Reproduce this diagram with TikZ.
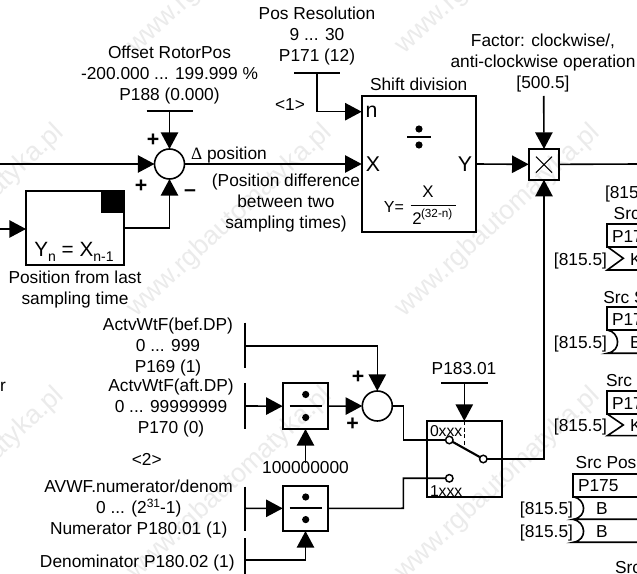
\documentclass[tikz,border=0pt]{standalone}
\usepackage{fontspec}
\setmainfont{Liberation Sans}
\newfontfamily\serifgreek{Liberation Serif}
\usetikzlibrary{arrows.meta}
\newcommand{\fs}[1]{\fontsize{#1}{15.75}\selectfont}
\newcommand{\nl}{\\\strut}
\newcommand{\pxbox}[5]{\node[blk, minimum width={(#4-#2)*0.75pt}, minimum height={(#5-#3)*0.75pt}] (#1) at ({(#2+#4)/2},{(#3+#5)/2}) {};}
\newcommand{\divsym}[4]{% x y halfwidth dy
  \fill (#1,#2-#4) circle (3.6);
  \fill (#1,#2+#4) circle (3.6);
  \draw[wire] (#1-#3,#2) -- (#1+#3,#2);}
\newcommand{\wmark}[2]{\node[wm] at (#1,#2) {www.rgbautomatyka.pl};}
\tikzset{
  wire/.style={line width=1.2pt},
  arr/.style={wire,-{Triangle[length=12.5pt,width=13pt]}},
  blk/.style={draw,line width=1.3pt,rectangle,inner sep=0pt,outer sep=0pt},
  sumc/.style={draw,line width=1.2pt,circle,inner sep=0pt,outer sep=0pt,minimum size=22.5pt},
  term/.style={draw,line width=1.1pt,circle,fill=white,inner sep=0pt,outer sep=0pt,minimum size=5.6pt},
  lbl/.style={inner sep=0pt,outer sep=0pt,align=center,yshift=-2.1pt,font=\fs{13},execute at begin node=\strut},
  lblw/.style={lbl,anchor=west},
  lble/.style={lbl,anchor=east},
  sign/.style={inner sep=0pt,font=\fs{16}\bfseries},
  big/.style={inner sep=0pt,font=\fs{16}},
  wm/.style={inner sep=0pt,rotate=43,text=black!8,font=\fs{20}},
}
\begin{document}
\begin{tikzpicture}[x=0.75pt,y=-0.75pt]
\useasboundingbox (0,0) rectangle (637,574);
\clip (0,0) rectangle (637,574);
\fill[white] (0,0) rectangle (637,574);
% watermark
\wmark{230}{-42}\wmark{498}{-42}
\wmark{-38}{221}\wmark{230}{221}\wmark{498}{221}
\wmark{-38}{484}\wmark{230}{484}\wmark{498}{484}

% --- position difference
\node[sumc] (sum1) at (169.5,164) {};
\pxbox{delay}{26}{191}{124}{265}
\fill (101,191) rectangle (124,213);
\node[big,font=\fs{15.5}] at (74,252) {Y\raisebox{-3.5pt}{\fs{10.5}n} = X\raisebox{-3.5pt}{\fs{10.5}n-1}};
\node[lbl] at (75,288) {Position from last\nl sampling time};
\node[lbl] at (169.5,73.6) {Offset RotorPos\nl -200.000 ... 199.999 \%\nl P188 (0.000)};
\coordinate (b188) at (169.5,111);
\draw[wire] (146.7,111) -- (192.7,111);
\draw[arr] (b188) -- (sum1.north);
\coordinate (inA) at (0,164);
\coordinate (inB) at (0,229);
\draw[arr] (inA) -- (sum1.west);
\draw[arr] (inB) -- (delay.west |- inB);
\draw[arr] (delay.east) -| (sum1.south);
\node[sign] at (153,140) {+};
\node[sign] at (141,186) {+};
\node[sign] at (190,193) {–};
\node[lbl] at (229,153) {{\serifgreek Δ} position};
\node[lbl] at (286,201.3) {(Position difference\nl between two\nl sampling times)};

% --- shift division
\pxbox{shift}{361.7}{96}{476}{232}
\node[lbl] at (418.7,84) {Shift division};
\node[lbl] at (317,35) {Pos Resolution\nl 9 ... 30\nl P171 (12)};
\node[lbl] at (290,104) {<1>};
\coordinate (b171) at (316.7,73);
\coordinate (nIn) at (361.7,111.7);
\draw[wire] (294,73) -- (340,73);
\draw[arr] (b171) |- (nIn);
\draw[arr] (sum1.east) -- (shift.west);
\node[big] at (371.5,111.5) {n};
\node[big] at (373,164) {X};
\node[big] at (465,164) {Y};
\divsym{419}{137}{12}{8}
\node[inner sep=0pt,font=\fs{12}] at (394,207) {Y=};
\node[inner sep=0pt,font=\fs{12.6}] at (428,192) {X};
\draw[wire] (410.7,205.7) -- (455.7,205.7);
\node[inner sep=0pt,font=\fs{12.6}] at (417,218.5) {2};
\node[inner sep=0pt,font=\fs{8.8}] at (436.7,214) {(32-n)};

% --- multiplier
\pxbox{mult}{528.7}{149}{559.3}{179.7}
\draw[line width=0.8pt] (536,156.7) -- (552,172.7) (552,156.7) -- (536,172.7);
\draw[arr] (shift.east) -- (mult.west);
\coordinate (f500) at (543.7,96);
\draw[arr] (f500) -- (mult.north);
\coordinate (outR) at (640,164);
\draw[wire] (mult.east) -- (outR);
\node[lbl] at (543,62) {Factor: clockwise/,\nl anti-clockwise operation\nl [500.5]};

% --- weight factor
\node[lbl] at (3,385) {r};
\node[lbl] at (168,345.6) {ActvWtF(bef.DP)\nl 0 ... 999\nl P169 (1)};
\node[lbl] at (171,406.3) {ActvWtF(aft.DP)\nl 0 ... 99999999\nl P170 (0)};
\node[lbl] at (146.7,459) {<2>};
\node[lbl] at (138.7,507.8) {AVWF.numerator/denom\nl 0 ... (2\raisebox{4.5pt}{\fs{9}31}-1)\nl Numerator P180.01 (1)};
\node[lbl] at (137.3,560.7) {Denominator P180.02 (1)};
\foreach \ya/\yb in {322.7/368,383/429,486.7/531,538.3/574}
  \draw[wire] (245,\ya) -- (245,\yb);
\coordinate (b169) at (245,346);
\coordinate (b170) at (245,406);
\coordinate (b180a) at (245,508.3);
\coordinate (b180b) at (245,560);
\pxbox{div1}{282.7}{383.3}{328.3}{429}
\pxbox{div2}{282.7}{485.7}{328.3}{531}
\divsym{305.7}{406}{16}{11.5}
\divsym{305.7}{508.3}{16}{11.3}
\node[sumc] (sum2) at (377.3,406) {};
\node[lbl] (c1e8) at (305.5,466.7) {100000000};
\draw[arr] (c1e8.north) ++(0,4) -- (div1.south);
\draw[arr] (b169) -| (sum2.north);
\draw[arr] (b170) -- (div1.west);
\draw[arr] (div1.east) -- (sum2.west);
\draw[arr] (b180a) -- (div2.west);
\draw[arr] (b180b) -| (div2.south);
\node[sign] at (358,377.7) {+};
\node[sign] at (352.7,424.3) {+};

% --- switch
\pxbox{sw}{426.7}{421}{502.3}{496.7}
\node[lbl] at (464,368) {P183.01};
\coordinate (b183) at (464.3,383.3);
\coordinate (swDash) at (464.3,445);
\draw[wire] (441,383.3) -- (487.7,383.3);
\draw[arr] (b183) -- (b183 |- sw.north);
\draw[line width=0.9pt,dash pattern=on 3pt off 2pt] (b183 |- sw.north) -- (swDash);
\node[lblw,font=\fs{11.8}] at (430,430) {0xxx};
\node[lblw,font=\fs{11.8}] at (430,489.3) {1xxx};
\node[term] (t0) at (449.3,440) {};
\node[term] (t1) at (449.3,478.3) {};
\node[term] (tc) at (483.3,459) {};
\coordinate (j1) at (403.3,406);
\coordinate (j2) at (403.3,508.3);
\draw[wire] (sum2.east) -- (j1) |- (t0.west);
\draw[wire] (div2.east) -- (j2) |- (t1.west);
\draw[line width=1.6pt] (t0) -- (tc);
\draw[arr] (tc.east) -| (mult.south);

% --- right column
\node[lblw] at (605,191.7) {[815};
\node[lblw] at (613.7,213) {Src};
\pxbox{s1}{607.3}{224}{660}{246.7}
\node[lblw] at (612,235.3) {P17};
\node[lble] at (607,259) {[815.5]};
\draw[wire] (s1.south west) -- (623.3,258.3) -- (607.3,270) -- (660,270);
\node[lblw] at (630,259) {K};

\node[lblw] at (603.3,296.7) {Src S};
\pxbox{s2}{607.3}{307.3}{660}{330}
\node[lblw] at (612,318.5) {P17};
\node[lble] at (607,341.7) {[815.5]};
\draw[wire] (s2.south west) .. controls (620,332) and (622,351) .. (607.3,353.3) -- (660,353.3);
\node[lblw] at (630,341.7) {B};

\node[lblw] at (606,379.3) {Src};
\pxbox{s3}{607.3}{391}{660}{414}
\node[lblw] at (612,402.5) {P17};
\node[lble] at (607,425) {[815.5]};
\draw[wire] (s3.south west) -- (623.3,425) -- (607.3,435.7) -- (660,435.7);
\node[lblw] at (630,425) {K};

\node[lblw] at (575.7,461.7) {Src Pos};
\pxbox{s4}{573.3}{474}{660}{496.7}
\node[lblw] at (578,485) {P175};
\node[lble] at (573,507.7) {[815.5]};
\draw[wire] (s4.south west) .. controls (586,499) and (588,517) .. (573.3,519.3) -- (660,519.3);
\coordinate (s4b) at (573.3,519.3);
\node[lblw] at (596,507.7) {B};
\node[lble] at (573,530.7) {[815.5]};
\draw[wire] (s4b) .. controls (586,522) and (588,540) .. (573.3,542.3) -- (660,542.3);
\node[lblw] at (596,530.7) {B};
\node[lblw] at (615,566.7) {Src};
\end{tikzpicture}
\end{document}
